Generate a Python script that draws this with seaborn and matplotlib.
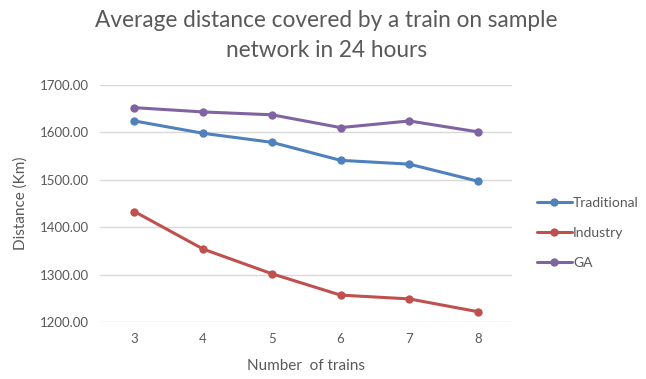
import matplotlib
matplotlib.use("Agg")
import matplotlib.pyplot as plt
import seaborn as sns
import pandas as pd
from matplotlib.ticker import FormatStrFormatter

trains = [3, 4, 5, 6, 7, 8]
traditional = [1624, 1598, 1579, 1541, 1533, 1497]
industry = [1433, 1354, 1302, 1257, 1249, 1222]
ga = [1652, 1643, 1637, 1610, 1624, 1601]
series_names = ["Traditional", "Industry", "GA"]
colors = ["#4F81BD", "#C0504D", "#8064A2"]
title_lines = ["Average distance covered by a train on sample", "network in 24 hours"]

df = pd.DataFrame({
    "trains": trains * 3,
    "distance": traditional + industry + ga,
    "method": sum([[n] * len(trains) for n in series_names], []),
})

sns.set_style("white")
plt.rcParams["font.family"] = ["Lato", "DejaVu Sans"]

fig = plt.figure(figsize=(6.46, 3.79), dpi=100)
ax = fig.add_axes([0.155, 0.150, 0.638, 0.626])

sns.lineplot(data=df, x="trains", y="distance", hue="method",
             hue_order=series_names, palette=colors, marker="o",
             markersize=6, markeredgewidth=0, linewidth=2.2,
             sort=False, ax=ax, legend=True)

ax.set_xlim(2.5, 8.5)
ax.set_ylim(1200, 1700)
ax.set_xticks(trains)
ax.set_yticks([1200, 1300, 1400, 1500, 1600, 1700])
ax.yaxis.set_major_formatter(FormatStrFormatter("%.2f"))
ax.grid(axis="y", color="#D9D9D9", linewidth=1)
ax.set_axisbelow(True)
for s in ax.spines.values():
    s.set_visible(False)
ax.tick_params(axis="both", length=0, labelsize=9.5, colors="#595959", pad=8)

ax.set_xlabel("Number  of trains", fontsize=11, color="#595959", labelpad=10)
ax.set_ylabel("Distance (Km)", fontsize=11, color="#595959", labelpad=9)

# two-line chart title, each line placed on its own baseline
fig.text(0.505, 1 - 27 / 379, title_lines[0], ha="center", va="baseline",
         fontsize=16.3, color="#595959")
fig.text(0.505, 1 - 57 / 379, title_lines[1], ha="center", va="baseline",
         fontsize=16.3, color="#595959")

handles, labels = ax.get_legend_handles_labels()
ax.get_legend().remove()
fig.legend(handles, labels, loc="center left", bbox_to_anchor=(0.812, 0.385),
           frameon=False, fontsize=10, labelcolor="#595959",
           handlelength=2.5, handletextpad=0.1, labelspacing=1.3)

fig.savefig("out.png", dpi=100)
